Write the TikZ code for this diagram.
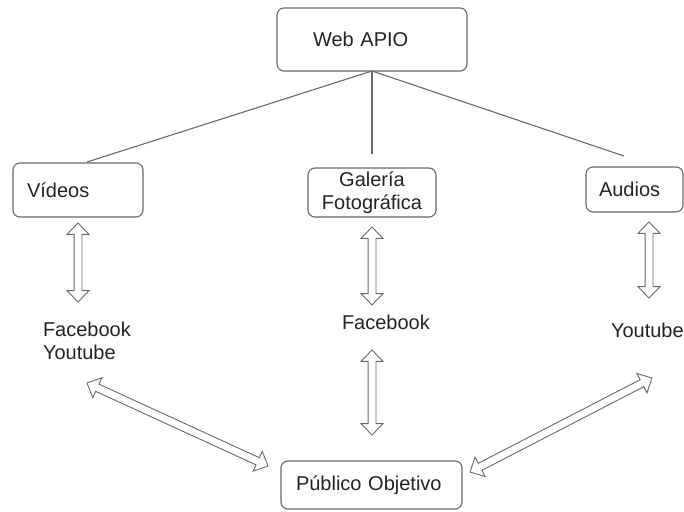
\documentclass[tikz,border=0pt]{standalone}
\usepackage{fontspec}
\setmainfont{Liberation Sans}
\usetikzlibrary{shapes.arrows,calc}
\definecolor{linegray}{RGB}{105,105,105}
\definecolor{textgray}{RGB}{35,35,35}
\tikzstyle{every node}=[font=\fontsize{20}{23}\selectfont, text=textgray, inner sep=0, outer sep=0]
\tikzstyle{box}=[draw=linegray, line width=1.1pt, rounded corners=7pt, align=left]
\tikzstyle{dblarrow}=[draw=linegray, line width=0.9pt, double arrow, inner xsep=0pt, inner ysep=3.5pt, double arrow head extend=7pt, double arrow tip angle=88]

\begin{document}
\begin{tikzpicture}[x=1pt,y=-1pt]
		\useasboundingbox (0,0) rectangle (684,511);
		\node[box,text width=118pt,inner xsep=36pt,minimum height=63pt] (web) at (372,39.5) {Web APIO};
		\node[box,text width=102pt,inner xsep=14pt,minimum height=54pt] (vid) at (78,190) {Vídeos};
		\node[box,align=center,minimum width=128pt,minimum height=49pt] (gal) at (372,192.5) {Galería\\Fotográfica};
		\node[box,text width=71pt,inner xsep=13pt,minimum height=45pt] (aud) at (634.5,189.5) {Audios};
		\node[box,text width=151pt,inner xsep=15pt,minimum height=48pt] (pub) at (371.5,485) {Público Objetivo};
		\node[align=left,anchor=west] (fy) at (43,341) {Facebook\\Youtube};
		\node[anchor=west] (fb) at (342,322) {Facebook};
		\node[anchor=west] (yt) at (611,330) {Youtube};
		\coordinate[] (l1) at (87,162);
		\coordinate[] (l2) at (372,154);
		\coordinate[] (l3) at (624,156);
		\coordinate[] (a1) at (78,223);
		\coordinate[] (b1) at (78,302);
		\coordinate[] (a2) at (372,227);
		\coordinate[] (b2) at (372,305);
		\coordinate[] (a3) at (649,222);
		\coordinate[] (b3) at (649,298);
		\coordinate[] (a4) at (372,350);
		\coordinate[] (b4) at (372,435);
		\coordinate[] (a5) at (87,383);
		\coordinate[] (b5) at (268,466);
		\coordinate[] (a6) at (652,378);
		\coordinate[] (b6) at (470,472);
		\draw[linegray,line width=1.1pt] (web.south) -- (l1);
		\draw[linegray,line width=1.1pt] (web.south) -- (l2);
		\draw[linegray,line width=1.1pt] (web.south) -- (l3);
		\foreach \i in {1,...,6}
			\path let \p1=($(b\i)-(a\i)$), \n1={veclen(\x1,\y1)} in
				(a\i) -- node[dblarrow,sloped,minimum height=\n1] (arr\i) {} (b\i);
	\end{tikzpicture}
\end{document}
